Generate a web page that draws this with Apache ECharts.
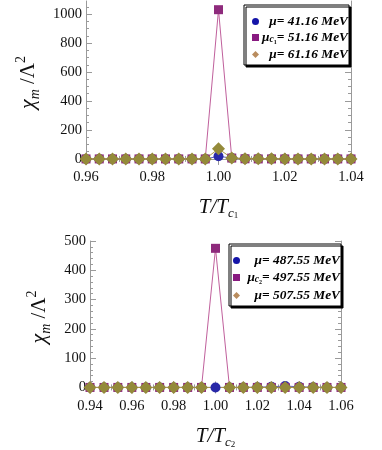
<!DOCTYPE html>
<html><head><meta charset="utf-8">
<script src="https://cdn.jsdelivr.net/npm/echarts@6/dist/echarts.min.js"></script>
<style>html,body{margin:0;padding:0;background:#fff}#c{width:382px;height:450px}</style>
</head><body><div id="c"></div>
<script>
// ---- data ----
const x1 = [0.960,0.964,0.968,0.972,0.976,0.980,0.984,0.988,0.992,0.996,1.000,1.004,1.008,1.012,1.016,1.020,1.024,1.028,1.032,1.036,1.040];
const blue1   = [0,0,0,0,0,0,0,0,0,0,18,6,2,1,1,0,0,0,0,0,0];
const purple1 = [0,0,0,0,0,0,0,0,0,0,1030,6,1,0,0,0,0,0,0,0,0];
const olive1  = [0,0,0,0,0,0,0,0,0,0,70,6,2,1,1,0,0,0,0,0,0];

const x2 = [0.9400,0.9467,0.9533,0.9600,0.9667,0.9733,0.9800,0.9867,0.9933,1.0000,1.0067,1.0133,1.0200,1.0267,1.0333,1.0400,1.0467,1.0533,1.0600];
const blue2   = [0,0,0,0,0,0,0,0,0,0,0,0,1,2,5,2,1,0,0];
const purple2 = [0,0,0,0,0,0,0,0,0,475,0,0,0,0,0,0,0,0,0];
const olive2  = [0,0,0,0,0,0,0,0,0,null,0,0,0,0,0,0,0,0,0];

const yTicks1 = [0,200,400,600,800,1000];
const yMinor1 = [50,100,150,250,300,350,450,500,550,650,700,750,850,900,950,1050];
const yTicks2 = [0,100,200,300,400,500];
const yMinor2 = [20,40,60,80,120,140,160,180,220,240,260,280,320,340,360,380,420,440,460,480];

const names1 = ['m41','m51','m61'];
const names2 = ['m487','m497','m507'];
const legendText = {
  m41: '{t|μ= 41.16 MeV}',
  m51: '{t|μ}{s|c}{s2|1}{t|= 51.16 MeV}',
  m61: '{t|μ= 61.16 MeV}',
  m487: '{t|μ= 487.55 MeV}',
  m497: '{t|μ}{s|c}{s2|2}{t|= 497.55 MeV}',
  m507: '{t|μ= 507.55 MeV}'
};

// ---- styles ----
const FRAME = '#9a9a9a';
const SERIF = "'Liberation Serif', 'Times New Roman', serif";
const C_BLUE = '#2828a8', L_BLUE = '#5a5ac4';
const C_PUR = '#8e2a7c', L_PUR = '#c0609c';
const C_OLV = '#948a3a', L_OLV = '#ac9a4a', C_TAN = '#b98c5e';

function xAxes(g, min, max, sub) {
  const base = {
    type: 'value', gridIndex: g, min: min, max: max, interval: 0.02,
    axisLine: {show: true, lineStyle: {color: FRAME, width: 1}},
    axisTick: {show: true, inside: true, length: 6, lineStyle: {color: FRAME}},
    minorTick: {show: true, splitNumber: 4, length: 3, lineStyle: {color: FRAME}},
    splitLine: {show: false}, minorSplitLine: {show: false}
  };
  return [
    Object.assign({}, base, {
      position: 'bottom',
      axisLabel: {show: true, margin: 6, color: '#111', fontFamily: SERIF, fontSize: 14.5,
        formatter: v => v.toFixed(2), showMinLabel: true, showMaxLabel: true},
      name: '{c|T/T}{s|c}{s2|' + sub + '}', nameLocation: 'middle', nameGap: 30,
      nameTextStyle: {rich: {
        c: {fontFamily: SERIF, fontStyle: 'italic', fontSize: 21, lineHeight: 26, color: '#111'},
        s: {fontFamily: SERIF, fontStyle: 'italic', fontSize: 13, lineHeight: 16, verticalAlign: 'bottom', color: '#111'},
        s2: {fontFamily: SERIF, fontSize: 9, lineHeight: 9, verticalAlign: 'bottom', color: '#111'}
      }}
    }),
    Object.assign({}, base, {position: 'top', axisLabel: {show: false}})
  ];
}

function yAxes(g, min, max, ticks, minor, nameGap) {
  const base = {
    type: 'value', gridIndex: g, min: min, max: max,
    splitLine: {show: false}
  };
  const major = pos => Object.assign({}, base, {
    position: pos,
    axisLine: {show: true, lineStyle: {color: FRAME, width: 1}},
    axisTick: {show: true, inside: true, length: 6, customValues: ticks, lineStyle: {color: FRAME}},
    axisLabel: {show: pos === 'left', customValues: ticks, margin: 4, color: '#111', fontFamily: SERIF, fontSize: 14.5,
      formatter: v => String(v)}
  });
  const minr = pos => Object.assign({}, base, {
    position: pos,
    axisLine: {show: false},
    axisTick: {show: true, inside: true, length: 3, customValues: minor, lineStyle: {color: FRAME}},
    axisLabel: {show: false}
  });
  const left = major('left');
  left.name = '{c|χ}{s|m}{c2| /Λ}{p|2}';
  left.nameLocation = 'middle';
  left.nameRotate = 90;
  left.nameGap = nameGap;
  left.nameTextStyle = {rich: {
    c: {fontFamily: SERIF, fontStyle: 'italic', fontSize: 22, lineHeight: 28, color: '#111'},
    s: {fontFamily: SERIF, fontStyle: 'italic', fontSize: 14, lineHeight: 14, verticalAlign: 'bottom', color: '#111'},
    c2: {fontFamily: SERIF, fontSize: 21, lineHeight: 28, color: '#111'},
    p: {fontFamily: SERIF, fontSize: 14, lineHeight: 12, verticalAlign: 'top', color: '#111'}
  }};
  return [left, minr('left'), major('right'), minr('right')];
}

function pairs(xs, ys) { return xs.map((x, i) => [x, ys[i]]); }

function mkSeries(name, xs, ys, g, symbol, size, color, lineColor) {
  return {
    name: name, type: 'line', xAxisIndex: g * 2, yAxisIndex: g * 4,
    data: pairs(xs, ys), symbol: symbol, symbolSize: size, showSymbol: true,
    connectNulls: true, clip: false,
    itemStyle: {color: color, borderWidth: 0},
    lineStyle: {color: lineColor, width: 1},
    emphasis: {disabled: true}, animation: false
  };
}

const legendRich = {
  t: {fontFamily: SERIF, fontStyle: 'italic', fontWeight: 'bold', fontSize: 13.4, lineHeight: 15, align: 'right', color: '#000'},
  s: {fontFamily: SERIF, fontStyle: 'italic', fontWeight: 'bold', fontSize: 9.5, lineHeight: 8, verticalAlign: 'bottom', align: 'right', color: '#000'},
  s2: {fontFamily: SERIF, fontWeight: 'bold', fontSize: 6, lineHeight: 5, verticalAlign: 'bottom', align: 'right', color: '#000'}
};

function legend(names, left, top, width, pad, gap, tan) {
  return {
    orient: 'vertical', left: left, top: top,
    padding: pad, itemGap: gap, itemWidth: 7, itemHeight: 7, itemTextGap: 2,
    backgroundColor: '#fff', borderColor: '#000', borderWidth: 1,
    shadowColor: '#000', shadowBlur: 0, shadowOffsetX: 2, shadowOffsetY: 2,
    selectedMode: false,
    data: [
      {name: names[0], icon: 'circle', itemStyle: {color: '#1414a8'}},
      {name: names[1], icon: 'rect', itemStyle: {color: '#881a80'}},
      {name: names[2], icon: 'diamond', itemStyle: {color: tan}}
    ],
    formatter: n => legendText[n],
    textStyle: {width: width, overflow: 'none', rich: legendRich}
  };
}

const chart = echarts.init(document.getElementById('c'), null, {renderer: 'canvas'});
chart.setOption({
  animation: false,
  backgroundColor: '#fff',
  grid: [
    {left: 86, right: 31, top: 1, height: 163},
    {left: 90, right: 41, top: 241, height: 155}
  ],
  xAxis: [].concat(xAxes(0, 0.96, 1.04, '1'), xAxes(1, 0.94, 1.06, '2')),
  yAxis: [].concat(yAxes(0, -35, 1090, yTicks1, yMinor1, 34), yAxes(1, -19, 500, yTicks2, yMinor2, 31)),
  legend: [
    legend(names1, 244, 5, 84, [10, 1, 4, 8], 3, C_TAN),
    legend(names2, 229, 244, 95, [10, 1, 4, 4], 4, C_TAN)
  ],
  series: [
    mkSeries('m41', x1, blue1, 0, 'circle', 10, C_BLUE, L_BLUE),
    mkSeries('m51', x1, purple1, 0, 'rect', 9, C_PUR, L_PUR),
    mkSeries('m61', x1, olive1, 0, 'diamond', 13, C_OLV, L_OLV),
    mkSeries('m487', x2, blue2, 1, 'circle', 10, C_BLUE, L_BLUE),
    mkSeries('m497', x2, purple2, 1, 'rect', 9, C_PUR, L_PUR),
    mkSeries('m507', x2, olive2, 1, 'diamond', 13, C_OLV, L_OLV)
  ]
});
</script></body></html>
